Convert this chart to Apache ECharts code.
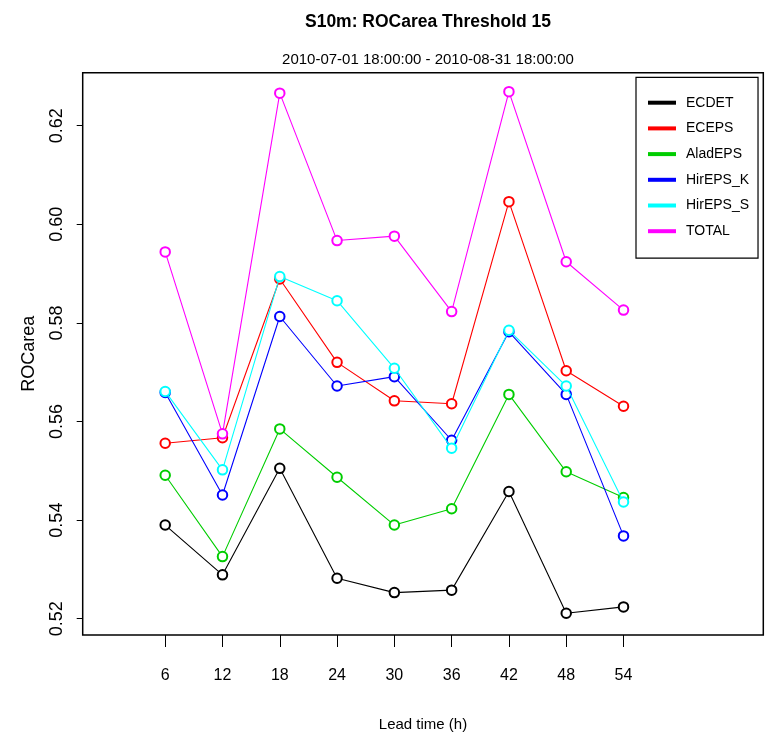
<!DOCTYPE html>
<html>
<head>
<meta charset="utf-8">
<script src="https://cdn.jsdelivr.net/npm/echarts@6/dist/echarts.min.js"></script>
<style>
html,body{margin:0;padding:0;background:#fff;}
#chart{width:769px;height:737px;}
</style>
</head>
<body>
<div id="chart"></div>
<script>
const leadTimes = [6, 12, 18, 24, 30, 36, 42, 48, 54];
const yTicks = [0.52, 0.54, 0.56, 0.58, 0.60, 0.62];
const seriesNames = ['ECDET', 'ECEPS', 'AladEPS', 'HirEPS_K', 'HirEPS_S', 'TOTAL'];
const ECDET    = [0.5390, 0.5289, 0.5505, 0.5282, 0.5253, 0.5258, 0.5458, 0.5211, 0.5224];
const ECEPS    = [0.5556, 0.5567, 0.5889, 0.5720, 0.5642, 0.5636, 0.6046, 0.5703, 0.5631];
const AladEPS  = [0.5491, 0.5326, 0.5585, 0.5487, 0.5390, 0.5423, 0.5655, 0.5498, 0.5446];
const HirEPS_K = [0.5659, 0.5451, 0.5813, 0.5672, 0.5691, 0.5562, 0.5782, 0.5655, 0.5368];
const HirEPS_S = [0.5661, 0.5502, 0.5894, 0.5845, 0.5708, 0.5546, 0.5785, 0.5672, 0.5437];
const TOTAL    = [0.5944, 0.5575, 0.6266, 0.5967, 0.5976, 0.5823, 0.6269, 0.5924, 0.5826];
const seriesValues = [ECDET, ECEPS, AladEPS, HirEPS_K, HirEPS_S, TOTAL];
const colors = ['#000000', '#FF0000', '#00CD00', '#0000FF', '#00FFFF', '#FF00FF'];

const FONT = '"Liberation Sans", Arial, sans-serif';

const chart = echarts.init(document.getElementById('chart'), null, {renderer: 'canvas'});
const series = seriesNames.map((name, i) => ({
  name: name,
  type: 'line',
  data: leadTimes.map((x, j) => [x, seriesValues[i][j]]),
  symbol: 'emptyCircle',
  symbolSize: 9.5,
  showAllSymbol: true,
  lineStyle: {color: colors[i], width: 1.1},
  itemStyle: {color: colors[i], borderColor: colors[i], borderWidth: 0.9},
  emphasis: {disabled: true},
  z: 2 + i
}));

chart.setOption({
  animation: false,
  backgroundColor: '#ffffff',
  title: [
    {text: 'S10m: ROCarea Threshold 15', left: 423, top: 8, textAlign: 'center',
     textStyle: {fontSize: 17.5, fontWeight: 'bold', fontFamily: FONT, color: '#000'}},
    {text: '2010-07-01 18:00:00 - 2010-08-31 18:00:00', left: 423, top: 47, textAlign: 'center',
     textStyle: {fontSize: 15, fontWeight: 'normal', fontFamily: FONT, color: '#000'}}
  ],
  grid: {left: 82.7, right: 5.7, top: 72.7, bottom: 102, show: true,
         borderColor: '#000', borderWidth: 1.5, backgroundColor: 'transparent'},
  legend: {
    orient: 'vertical', left: 636, top: 77.3,
    data: seriesNames,
    icon: 'rect', itemWidth: 26, itemHeight: 2, itemGap: 9.7,
    padding: [17.4, 9, 19, 12],
    borderColor: '#000', borderWidth: 1.2,
    textStyle: {fontSize: 14, lineHeight: 16, fontFamily: FONT, color: '#000', padding: [0, 0, 0, 6]}
  },
  xAxis: {
    type: 'value', min: -2.64, max: 68.64,
    splitLine: {show: false},
    axisLine: {show: false, onZero: false},
    axisTick: {show: true, inside: false, length: 12, customValues: leadTimes,
               lineStyle: {color: '#000', width: 1}},
    axisLabel: {customValues: leadTimes, margin: 33, fontSize: 16, fontFamily: FONT, color: '#000'},
    name: 'Lead time (h)', nameLocation: 'middle', nameGap: 82,
    nameTextStyle: {fontSize: 15, fontFamily: FONT, color: '#000'}
  },
  yAxis: {
    type: 'value', min: 0.5167, max: 0.63075,
    splitLine: {show: false},
    axisLine: {show: false, onZero: false},
    axisTick: {show: true, inside: false, length: 6, customValues: yTicks,
               lineStyle: {color: '#000', width: 1}},
    axisLabel: {customValues: yTicks, rotate: 90, margin: 17, fontSize: 18, fontFamily: FONT, color: '#000',
                formatter: v => v.toFixed(2)},
    name: 'ROCarea', nameLocation: 'middle', nameRotate: 90, nameGap: 45,
    nameTextStyle: {fontSize: 18, fontFamily: FONT, color: '#000'}
  },
  series: series
});
</script>
</body>
</html>
